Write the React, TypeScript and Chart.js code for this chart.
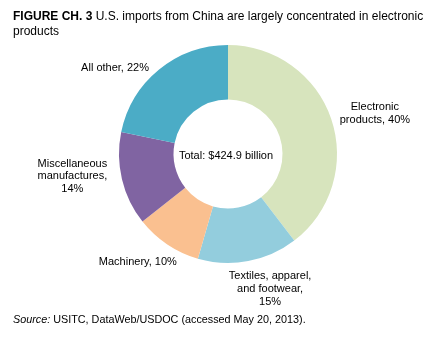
import React, { useEffect, useRef } from "react";
import { Chart, registerables } from "chart.js";

Chart.register(...registerables);

const categories = [
  "Electronic products",
  "Textiles, apparel, and footwear",
  "Machinery",
  "Miscellaneous manufactures",
  "All other",
];
const shares = [40, 15, 10, 14, 22];
const labelLines = [
  ["Electronic", "products, 40%"],
  ["Textiles, apparel,", "and footwear,", "15%"],
  ["Machinery, 10%"],
  ["Miscellaneous", "manufactures,", "14%"],
  ["All other, 22%"],
];
const centerText = "Total: $424.9 billion";
const colors = ["#D7E4BD", "#93CDDD", "#FAC090", "#8064A2", "#4BACC6"];

const FONT = "'Liberation Sans', Arial, sans-serif";
const labelNudge = [
  [-1, 2],
  [12, -3],
  [-1, 2],
  [-4, -10],
  [-15, 13],
];

const labelPlugin = {
  id: "outerLabels",
  afterDraw(chart: any) {
    const ctx = chart.ctx;
    const meta = chart.getDatasetMeta(0);
    ctx.save();
    ctx.fillStyle = "#000";
    ctx.font = `11px ${FONT}`;
    ctx.textAlign = "center";
    ctx.textBaseline = "middle";
    const lh = 12.8;
    meta.data.forEach((arc: any, i: number) => {
      const p = arc.getProps(["x", "y", "startAngle", "endAngle", "outerRadius"], true);
      const mid = (p.startAngle + p.endAngle) / 2;
      const dx = Math.cos(mid);
      const dy = Math.sin(mid);
      const lines = labelLines[i];
      const halfW = Math.max(...lines.map((l) => ctx.measureText(l).width)) / 2;
      const halfH = (lines.length * lh) / 2;
      const r = p.outerRadius + 12;
      const cx = p.x + dx * r + dx * halfW + labelNudge[i][0];
      const cy = p.y + dy * r + dy * halfH + labelNudge[i][1];
      lines.forEach((l, j) => {
        ctx.fillText(l, cx, cy - halfH + lh / 2 + j * lh);
      });
    });
    const a0 = meta.data[0];
    ctx.fillText(centerText, a0.x - 2, a0.y + 2);
    ctx.restore();
  },
};

export default function App() {
  const ref = useRef<HTMLCanvasElement>(null);
  useEffect(() => {
    if (!ref.current) return;
    const chart = new Chart(ref.current, {
      type: "doughnut",
      data: {
        labels: categories,
        datasets: [
          {
            data: shares,
            backgroundColor: colors,
            borderWidth: 0,
          },
        ],
      },
      options: {
        animation: false,
        responsive: false,
        cutout: "50%",
        layout: { padding: { left: 119, right: 97, top: 45, bottom: 81 } },
        plugins: {
          legend: { display: false },
          tooltip: { enabled: false },
          title: { display: false },
        },
      },
      plugins: [labelPlugin],
    });
    return () => chart.destroy();
  }, []);

  return (
    <div style={{ position: "absolute", left: 0, top: 0, width: 434, height: 344, background: "#fff", fontFamily: FONT }}>
      <canvas ref={ref} width={434} height={344} style={{ position: "absolute", left: 0, top: 0 }} />
      <div style={{ position: "absolute", left: 13, top: 9, fontSize: 12, lineHeight: "15px", color: "#000", whiteSpace: "nowrap" }}>
        <b>FIGURE CH. 3</b> U.S. imports from China are largely concentrated in electronic
        <br />
        products
      </div>
      <div style={{ position: "absolute", left: 13, top: 313, fontSize: 10.8, lineHeight: "13px", color: "#000", whiteSpace: "nowrap" }}>
        <i>Source:</i> USITC, DataWeb/USDOC (accessed May 20, 2013).
      </div>
    </div>
  );
}
